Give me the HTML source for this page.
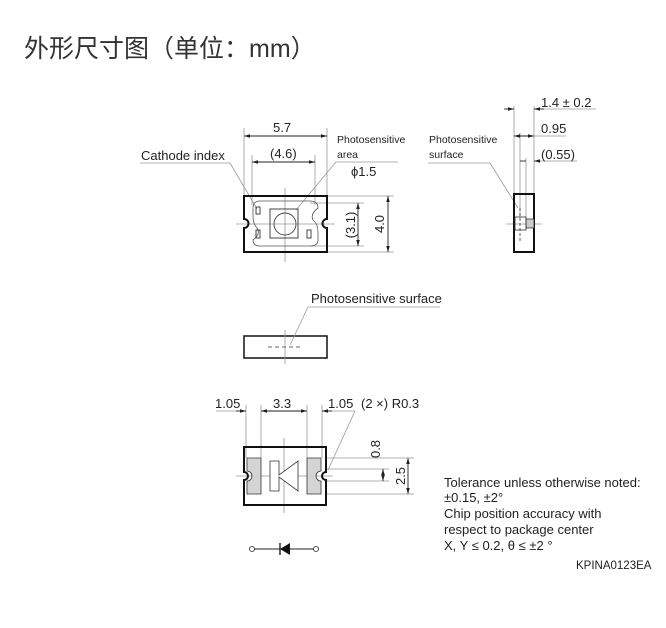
<!DOCTYPE html>
<html><head><meta charset="utf-8"><style>
body{margin:0;background:#fff;width:666px;height:628px;overflow:hidden}
svg{position:absolute;left:0;top:0}
text{font-family:"Liberation Sans","DejaVu Sans",sans-serif;fill:#222}
</style></head><body>
<svg width="666" height="628" viewBox="0 0 666 628">
<defs>
<marker id="a" viewBox="0 0 10 6" refX="10" refY="3" markerWidth="7" markerHeight="4" orient="auto-start-reverse"><path d="M0,0L10,3L0,6z" fill="#222"/></marker>
</defs>
<text x="24" y="57" style="font-family:'Liberation Sans','Noto Sans CJK SC',sans-serif;font-size:25px;fill:#333">外形尺寸图（单位：mm）</text>

<g stroke="#999" stroke-width="0.8" fill="none">
<line x1="244" y1="128" x2="244" y2="196"/><line x1="327" y1="128" x2="327" y2="196"/>
<line x1="252" y1="155" x2="252" y2="205"/><line x1="315" y1="155" x2="315" y2="205"/>
<line x1="327" y1="196" x2="394" y2="196"/><line x1="327" y1="252" x2="394" y2="252"/>
<line x1="310" y1="203" x2="364" y2="203"/><line x1="310" y1="246" x2="364" y2="246"/>
<line x1="285" y1="188" x2="285" y2="262"/><line x1="236" y1="224" x2="335" y2="224"/>
<line x1="140" y1="163" x2="230" y2="163"/><line x1="230" y1="163" x2="257" y2="209"/>
<line x1="336" y1="162" x2="398" y2="162"/><line x1="336" y1="162" x2="296" y2="210"/>
</g>
<g stroke="#222" stroke-width="0.9" marker-start="url(#a)" marker-end="url(#a)">
<line x1="244" y1="136" x2="327" y2="136"/><line x1="252" y1="162" x2="315" y2="162"/>
<line x1="358" y1="203" x2="358" y2="246"/><line x1="388" y1="196" x2="388" y2="252"/>
</g>
<path d="M244,196H327V219A4,4 0 0 0 327,228V252H244V228A4,4 0 0 0 244,219Z" fill="none" stroke="#111" stroke-width="2"/>
<path d="M260,201H310Q318,201 318,208Q310,214 313,220Q318,224 318,232V240Q318,246 310,246H260Q253,246 253,240Q261,234 257,228Q253,224 253,216V208Q253,201 260,201Z" fill="none" stroke="#555" stroke-width="0.8"/>
<rect x="270" y="209" width="28" height="29" fill="none" stroke="#333" stroke-width="0.9"/>
<circle cx="285" cy="224" r="11" fill="none" stroke="#444" stroke-width="0.9"/>
<rect x="256" y="207" width="4" height="7" fill="none" stroke="#333" stroke-width="0.9"/>
<rect x="256" y="230" width="4" height="8" fill="none" stroke="#333" stroke-width="0.9"/>
<rect x="307" y="230" width="4" height="8" fill="none" stroke="#333" stroke-width="0.9"/>
<text x="273" y="132" font-size="13">5.7</text>
<text x="270" y="158" font-size="13">(4.6)</text>
<text x="141" y="160" font-size="13">Cathode index</text>
<text x="337" y="143" font-size="10.5">Photosensitive</text>
<text x="337" y="158" font-size="10.5">area</text>
<text x="351" y="176" font-size="13">ϕ1.5</text>
<text transform="translate(355,225) rotate(-90)" font-size="13" text-anchor="middle">(3.1)</text>
<text transform="translate(384,224) rotate(-90)" font-size="13" text-anchor="middle">4.0</text>

<g stroke="#999" stroke-width="0.8" fill="none">
<line x1="514" y1="106" x2="514" y2="194"/><line x1="534" y1="106" x2="534" y2="194"/>
<line x1="520" y1="133" x2="520" y2="218"/><line x1="526" y1="158" x2="526" y2="218"/>
<line x1="534" y1="109" x2="596" y2="109"/><line x1="534" y1="136" x2="566" y2="136"/><line x1="534" y1="161" x2="577" y2="161"/>
<line x1="506" y1="224" x2="542" y2="224"/>
<line x1="428" y1="163" x2="490" y2="163"/><line x1="490" y1="163" x2="518" y2="208"/>
</g>
<g stroke="#222" stroke-width="0.9">
<line x1="504" y1="109" x2="514" y2="109" marker-end="url(#a)"/><line x1="534" y1="109" x2="544" y2="109" marker-start="url(#a)"/>
<line x1="514" y1="136" x2="534" y2="136" marker-start="url(#a)" marker-end="url(#a)"/>
<line x1="520" y1="161" x2="526" y2="161"/><line x1="534" y1="161" x2="539" y2="161" marker-start="url(#a)"/>
</g>
<rect x="514" y="194" width="20" height="58" fill="none" stroke="#111" stroke-width="2"/>
<rect x="526" y="219" width="8" height="9" fill="#ccc" stroke="#333" stroke-width="0.8"/>
<rect x="515" y="217" width="11" height="13" fill="none" stroke="#333" stroke-width="0.8"/>
<line x1="520" y1="208" x2="520" y2="243" stroke="#333" stroke-width="0.8" stroke-dasharray="3,2"/>
<text x="541" y="107" font-size="13">1.4 ± 0.2</text>
<text x="541" y="133" font-size="13">0.95</text>
<text x="541" y="159" font-size="13">(0.55)</text>
<text x="429" y="143" font-size="10.5">Photosensitive</text>
<text x="429" y="158" font-size="10.5">surface</text>

<rect x="244" y="336" width="83" height="22" fill="none" stroke="#111" stroke-width="1.5"/>
<line x1="268" y1="347" x2="302" y2="347" stroke="#333" stroke-width="0.8" stroke-dasharray="4,3"/>
<line x1="285" y1="330" x2="285" y2="364" stroke="#999" stroke-width="0.8"/>
<g stroke="#999" stroke-width="0.8"><line x1="308" y1="307" x2="440" y2="307"/><line x1="308" y1="307" x2="290" y2="345"/></g>
<text x="311" y="303" font-size="13">Photosensitive surface</text>

<g stroke="#999" stroke-width="0.8" fill="none">
<line x1="246" y1="405" x2="246" y2="458"/><line x1="261" y1="405" x2="261" y2="458"/>
<line x1="307" y1="405" x2="307" y2="458"/><line x1="322" y1="405" x2="322" y2="458"/>
<line x1="216" y1="411" x2="240" y2="411"/><line x1="326" y1="411" x2="355" y2="411"/>
<line x1="355" y1="411" x2="328" y2="470"/>
<line x1="326" y1="458" x2="414" y2="458"/><line x1="326" y1="494" x2="414" y2="494"/>
<line x1="326" y1="469" x2="389" y2="469"/><line x1="326" y1="481" x2="389" y2="481"/>
<line x1="284" y1="438" x2="284" y2="513"/><line x1="236" y1="476" x2="333" y2="476"/>
</g>
<g stroke="#222" stroke-width="0.9">
<line x1="236" y1="411" x2="246" y2="411" marker-end="url(#a)"/>
<line x1="261" y1="411" x2="307" y2="411" marker-start="url(#a)" marker-end="url(#a)"/>
<line x1="332" y1="411" x2="322" y2="411" marker-end="url(#a)"/>
<line x1="383" y1="469" x2="383" y2="481" marker-start="url(#a)" marker-end="url(#a)"/>
<line x1="408" y1="458" x2="408" y2="494" marker-start="url(#a)" marker-end="url(#a)"/>
</g>
<path d="M244,447H326V472A4,4 0 0 0 326,480V505H244V480A4,4 0 0 0 244,472Z" fill="none" stroke="#111" stroke-width="2"/>
<path d="M247,458H261V494H247V481A4,4 0 0 0 247,471Z" fill="#d4d4d4" stroke="#333" stroke-width="0.8"/>
<path d="M307,458H321V471A4,4 0 0 0 321,481V494H307Z" fill="#d4d4d4" stroke="#333" stroke-width="0.8"/>
<path d="M270,461H279V475L298,461V491L279,477V491H270Z" fill="#fff" stroke="#333" stroke-width="0.8"/>
<text x="215" y="408" font-size="13">1.05</text>
<text x="273" y="408" font-size="13">3.3</text>
<text x="328" y="408" font-size="13">1.05</text>
<text x="361" y="408" font-size="13">(2 ×) R0.3</text>
<text transform="translate(380,449) rotate(-90)" font-size="13" text-anchor="middle">0.8</text>
<text transform="translate(405,476) rotate(-90)" font-size="13" text-anchor="middle">2.5</text>

<line x1="254" y1="549" x2="314" y2="549" stroke="#222" stroke-width="0.9"/>
<circle cx="252" cy="549" r="2.5" fill="#fff" stroke="#222" stroke-width="0.8"/>
<circle cx="316" cy="549" r="2.5" fill="#fff" stroke="#222" stroke-width="0.8"/>
<path d="M280,549L290,543V555Z" fill="#111"/><line x1="280" y1="543" x2="280" y2="555" stroke="#111" stroke-width="1.3"/>

<g font-size="13">
<text x="444" y="487">Tolerance unless otherwise noted:</text>
<text x="444" y="502">±0.15, ±2°</text>
<text x="444" y="518">Chip position accuracy with</text>
<text x="444" y="534">respect to package center</text>
<text x="444" y="550">X, Y ≤ 0.2, θ ≤ ±2 °</text>
</g>
<text x="576" y="569" font-size="11.5">KPINA0123EA</text>
</svg>
</body></html>
